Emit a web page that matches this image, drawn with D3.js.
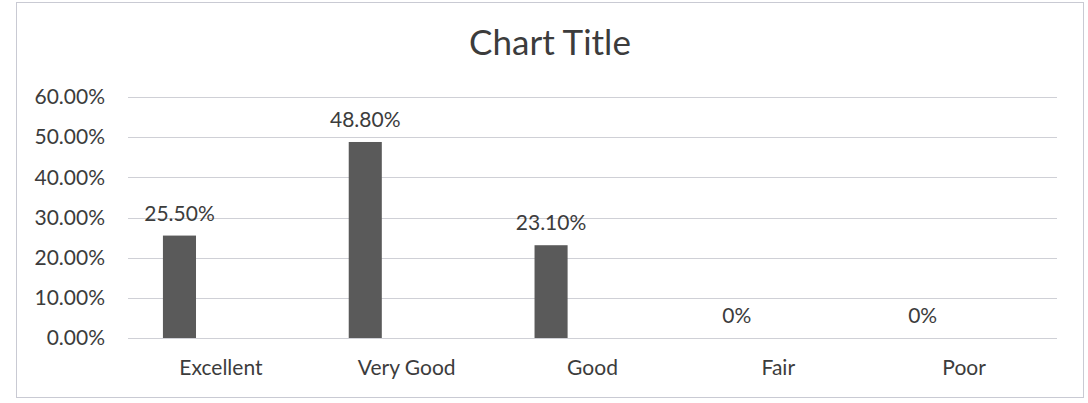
<!DOCTYPE html>
<html>
<head>
<meta charset="utf-8">
<script src="https://cdn.jsdelivr.net/npm/d3@7"></script>
<style>
  body { margin: 0; background: #fff; }
  svg { display: block; font-family: Lato, "Open Sans", sans-serif; }
  .tick text { fill: #3c3c3c; }
</style>
</head>
<body>
<svg width="1088" height="403"></svg>
<script>
const categories = ['Excellent', 'Very Good', 'Good', 'Fair', 'Poor'];
const values = [25.5, 48.8, 23.1, 0, 0];
const valueLabels = ['25.50%', '48.80%', '23.10%', '0%', '0%'];
const yTicks = [0, 10, 20, 30, 40, 50, 60];

const svg = d3.select('svg');

// chart frame
svg.append('rect')
  .attr('x', 16.5).attr('y', 2.5)
  .attr('width', 1067).attr('height', 395)
  .attr('fill', 'none')
  .attr('stroke', '#c9cad3')
  .attr('stroke-width', 1);

const x = d3.scaleBand().domain(categories).range([128, 1057]).padding(0);
const y = d3.scaleLinear().domain([0, 60]).range([338, 97]);

// gridlines
svg.append('g')
  .selectAll('line')
  .data(yTicks)
  .enter()
  .append('line')
  .attr('x1', 128).attr('x2', 1057)
  .attr('y1', d => Math.round(y(d)) + 0.5)
  .attr('y2', d => Math.round(y(d)) + 0.5)
  .attr('stroke', '#cfd0d6')
  .attr('stroke-width', 1);

// y axis labels
const yAxis = svg.append('g')
  .attr('transform', 'translate(108,0)')
  .call(d3.axisLeft(y).tickValues(yTicks).tickSize(0).tickPadding(3)
    .tickFormat(d => d.toFixed(2) + '%'));
yAxis.select('.domain').remove();
yAxis.selectAll('text').attr('font-size', 21).attr('font-family', 'Lato, sans-serif');

// x axis labels
const xAxis = svg.append('g')
  .attr('transform', 'translate(0,338)')
  .call(d3.axisBottom(x).tickSize(0).tickPadding(22));
xAxis.select('.domain').remove();
xAxis.selectAll('text').attr('font-size', 21).attr('font-family', 'Lato, sans-serif');

// bars sit in the first slot of each category
const bw = x.bandwidth();
const barX = c => x(c) + bw * 0.188;
const barW = bw * 0.178;

svg.append('g')
  .selectAll('rect')
  .data(categories)
  .enter()
  .append('rect')
  .attr('x', c => barX(c))
  .attr('width', barW)
  .attr('y', (c, i) => y(values[i]))
  .attr('height', (c, i) => y(0) - y(values[i]))
  .attr('fill', '#5a5a5a');

// data labels
svg.append('g')
  .selectAll('text')
  .data(categories)
  .enter()
  .append('text')
  .attr('x', c => barX(c) + barW / 2)
  .attr('y', (c, i) => y(values[i]) - 15)
  .attr('text-anchor', 'middle')
  .attr('font-size', 21)
  .attr('fill', '#3c3c3c')
  .text((c, i) => valueLabels[i]);

// title
svg.append('text')
  .attr('x', 550).attr('y', 55)
  .attr('text-anchor', 'middle')
  .attr('font-size', 35)
  .attr('fill', '#3c3c3c')
  .text('Chart Title');
</script>
</body>
</html>
